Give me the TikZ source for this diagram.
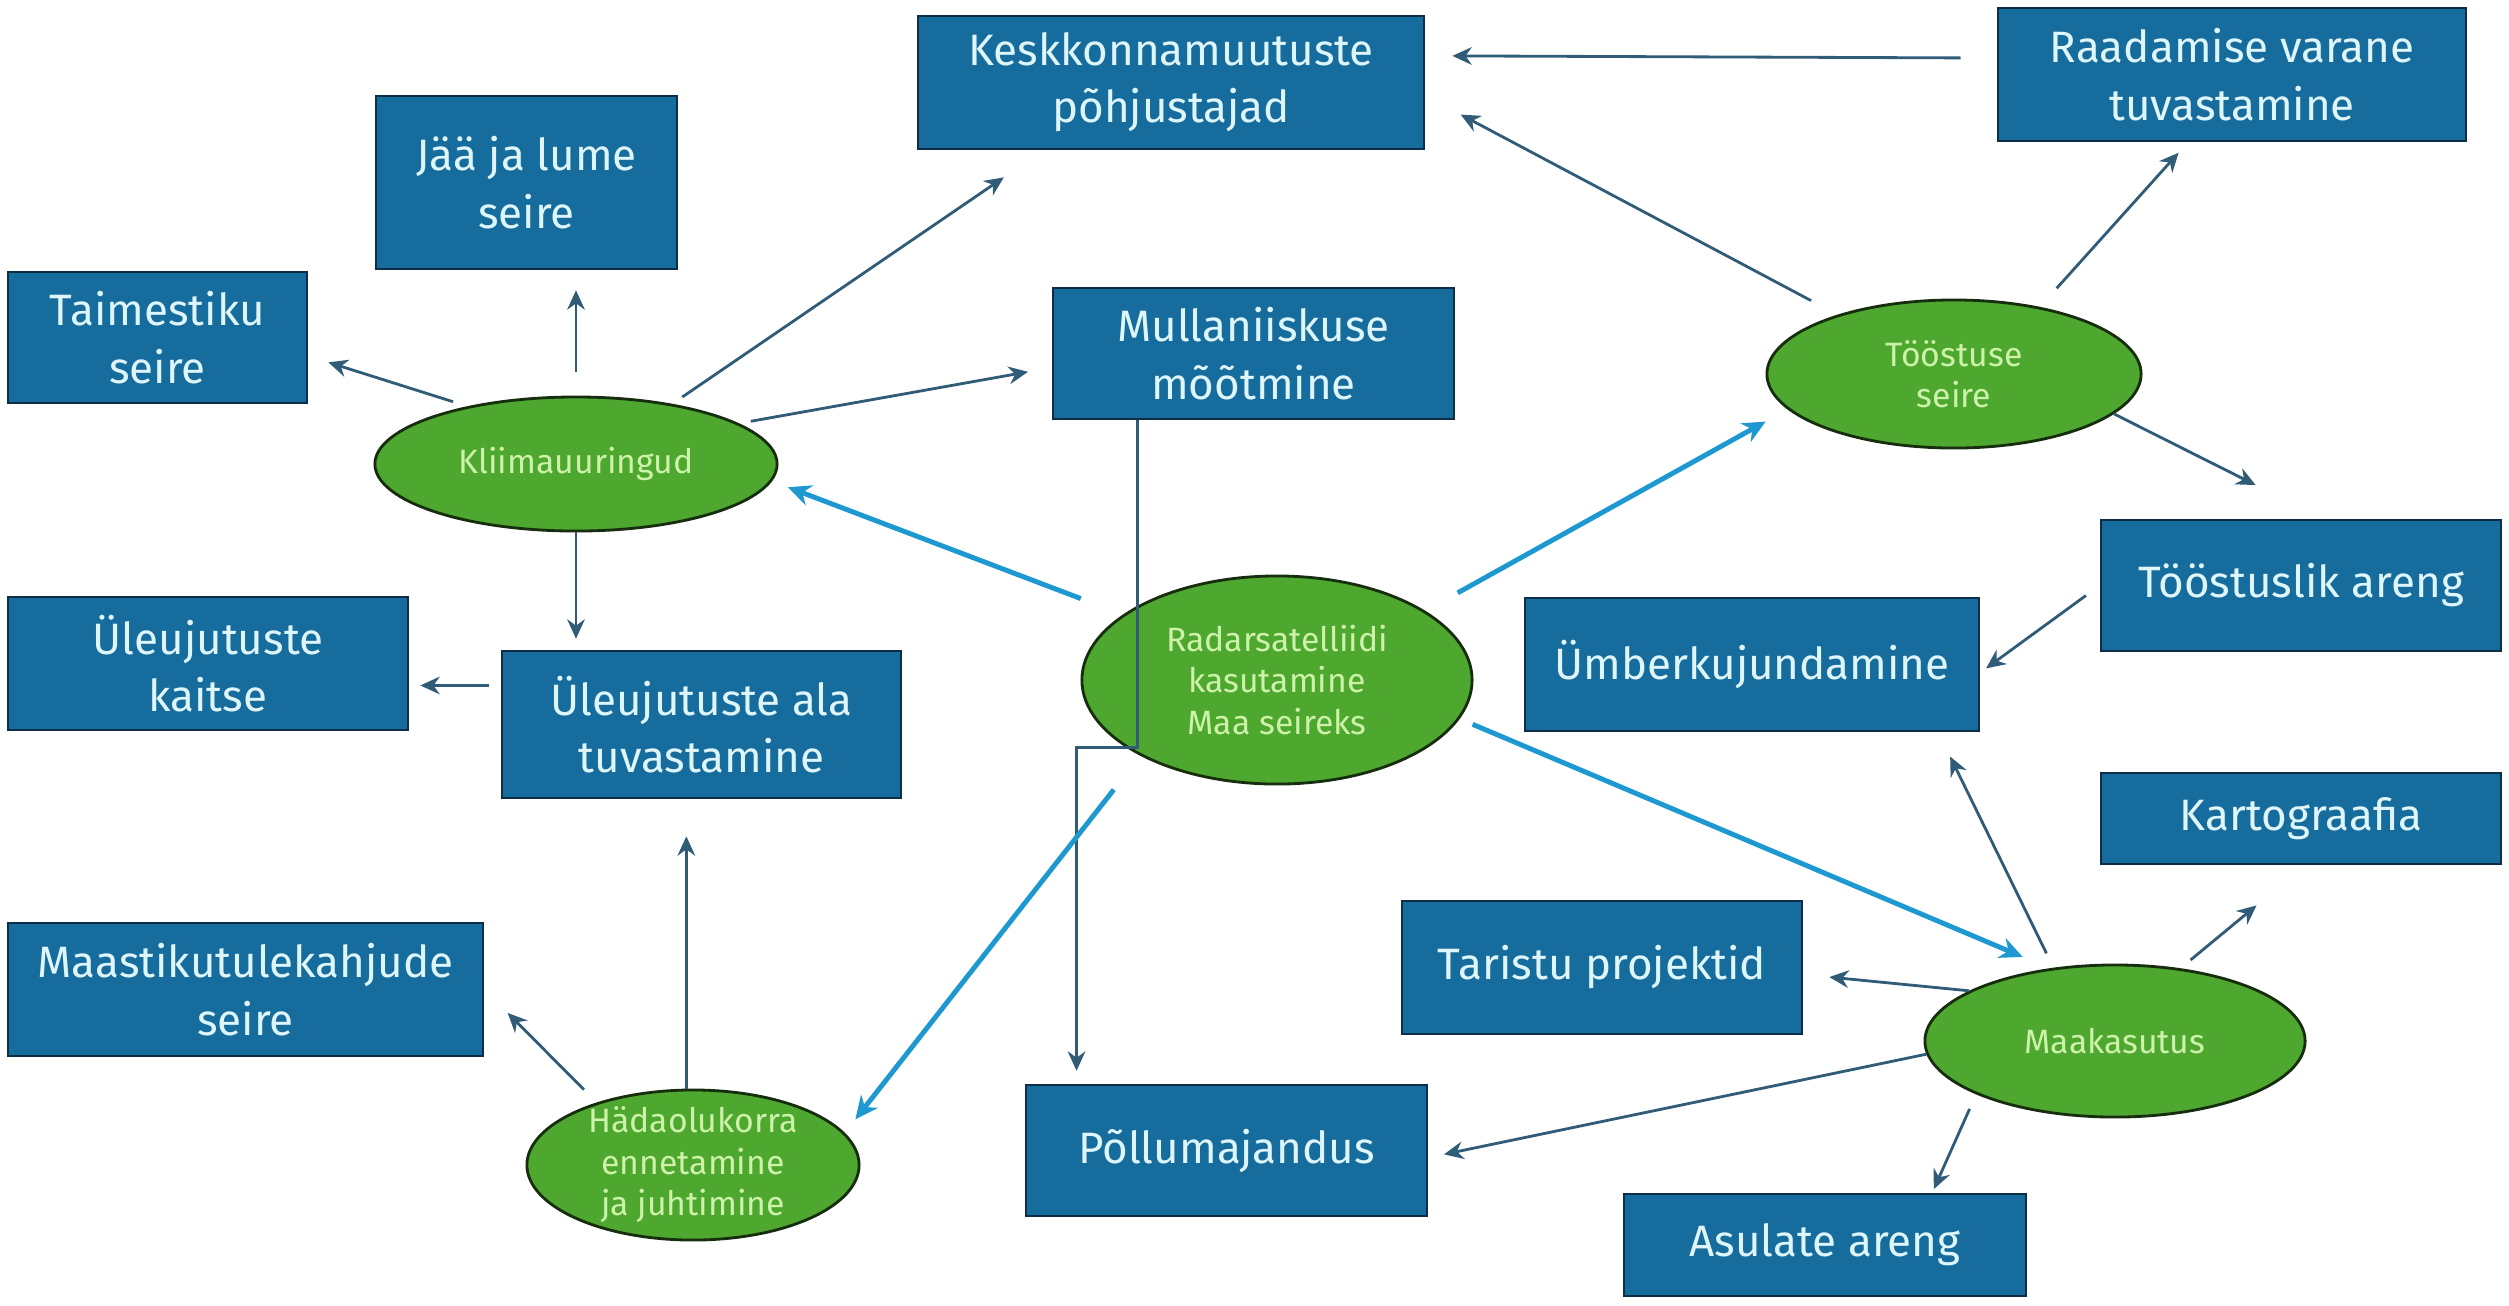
\documentclass[tikz,border=0pt]{standalone}
\usepackage{fontspec}
\setmainfont{Fira Sans}
\usetikzlibrary{positioning, shapes.geometric, arrows.meta, calc}

\definecolor{boxblue}{RGB}{22,108,156}
\definecolor{boxedge}{RGB}{14,45,70}
\definecolor{boxtext}{RGB}{222,246,250}
\definecolor{ovalgreen}{RGB}{78,167,46}
\definecolor{ovaledge}{RGB}{22,45,14}
\definecolor{ovaltext}{RGB}{205,242,170}
\definecolor{arrowdark}{RGB}{48,92,120}
\definecolor{arrowlight}{RGB}{30,152,208}

\begin{document}
\begin{tikzpicture}[x=0.01cm, y=-0.01cm,
  box/.style={draw=boxedge, line width=0.7pt, fill=boxblue, text=boxtext, align=center, inner sep=0pt, font=\fontsize{12.5}{16.3}\selectfont},
  oval/.style={ellipse, draw=ovaledge, line width=0.8pt, fill=ovalgreen, text=ovaltext, align=center, inner sep=-5pt, font=\fontsize{9.6}{11.8}\selectfont},
  arr/.style={-{Stealth[length=5.5pt, width=5pt]}, draw=arrowdark, line width=0.8pt},
  mainarr/.style={-{Stealth[length=6.5pt, width=6pt]}, draw=arrowlight, line width=1.4pt}]
  \useasboundingbox (0,0) rectangle (2509,1305);

  % boxes
  \node[box, minimum width=5.06cm, minimum height=1.33cm] (keskkond) at (1171,82.5) {Keskkonnamuutuste\\põhjustajad};
  \node[box, minimum width=4.68cm, minimum height=1.33cm] (raadamine) at (2232,74.5) {Raadamise varane\\tuvastamine};
  \node[box, minimum width=3.01cm, minimum height=1.73cm] (jaa) at (526.5,182.5) {Jää ja lume\\seire};
  \node[box, minimum width=2.99cm, minimum height=1.31cm] (taimestik) at (157.5,337.5) {Taimestiku\\seire};
  \node[box, minimum width=4.01cm, minimum height=1.31cm] (mullaniiskus) at (1253.5,353.5) {Mullaniiskuse\\mõõtmine};
  \node[box, minimum width=4.00cm, minimum height=1.31cm] (tooarend) at (2301,585.5) {Tööstuslik areng};
  \node[box, minimum width=4.54cm, minimum height=1.33cm] (umber) at (1752,664.5) {Ümberkujundamine};
  \node[box, minimum width=4.00cm, minimum height=1.33cm] (uleujkaitse) at (208,663.5) {Üleujutuste\\kaitse};
  \node[box, minimum width=3.99cm, minimum height=1.47cm] (uleujala) at (701.5,724.5) {Üleujutuste ala\\tuvastamine};
  \node[box, minimum width=4.00cm, minimum height=0.91cm] (kartograafia) at (2301,818.5) {Kartograafia};
  \node[box, minimum width=4.00cm, minimum height=1.33cm] (taristu) at (1602,967.5) {Taristu projektid};
  \node[box, minimum width=4.75cm, minimum height=1.33cm] (maastik) at (245.5,989.5) {Maastikutulekahjude\\seire};
  \node[box, minimum width=4.01cm, minimum height=1.31cm] (pollumajandus) at (1226.5,1150.5) {Põllumajandus};
  \node[box, minimum width=4.02cm, minimum height=1.02cm] (asulad) at (1825,1245) {Asulate areng};

  % ellipses
  \node[oval, minimum width=4.02cm, minimum height=1.34cm] (kliima) at (576,464) {Kliimauuringud};
  \node[oval, minimum width=3.90cm, minimum height=2.08cm] (radar) at (1277,680) {Radarsatelliidi\\kasutamine\\Maa seireks};
  \node[oval, minimum width=3.74cm, minimum height=1.48cm] (toostus) at (1954,374) {Tööstuse\\seire};
  \node[oval, minimum width=3.32cm, minimum height=1.50cm] (hada) at (693,1165) {Hädaolukorra\\ennetamine\\ja juhtimine};
  \node[oval, minimum width=3.80cm, minimum height=1.52cm] (maakasutus) at (2115,1041) {Maakasutus};

  % kliimauuringud
  \draw[arr, shorten <=1.5mm, shorten >=2.1mm] (kliima.152) -- (taimestik.-7.5);
  \draw[arr, shorten <=2.4mm, shorten >=2mm] (kliima.north) -- (kliima.north |- jaa.south);
  \draw[arr, shorten <=1.2mm, shorten >=4.8mm] (kliima.32.7) -- (keskkond.208.4);
  \draw[arr, shorten <=1.2mm, shorten >=2.4mm] (kliima.14.8) -- (mullaniiskus.184.4);
  \draw[arr, shorten >=1.1mm] (kliima.south) -- (kliima.south |- uleujala.north);
  \draw[arr, shorten <=1.2mm, shorten >=1.1mm] (uleujala.169) -- (uleujala.169 -| uleujkaitse.east);

  % hadaolukord
  \draw[arr, shorten >=3.7mm] (hada.95) -- (hada.95 |- uleujala.south);
  \draw[arr, shorten <=1.8mm, shorten >=3.3mm] (hada.147.7) -- (maastik.east);

  % toostus
  \draw[arr, shorten <=3.6mm, shorten >=2.7mm] (raadamine.176.3) -- (keskkond.6.5);
  \draw[arr, shorten <=3mm, shorten >=4mm] (toostus.153.7) -- (keskkond.-3.8);
  \draw[arr, shorten <=2.5mm, shorten >=1.4mm] (toostus.38) -- (raadamine.-123.5);
  \draw[arr, shorten >=7.5mm] (toostus.-14.3) -- (tooarend.72.2);
  \draw[arr, shorten <=1.7mm, shorten >=0.7mm] (tooarend.west) -- (umber.-2.4);

  % maakasutus
  \draw[arr, shorten <=1.6mm, shorten >=2.7mm] (maakasutus.130.6) -- (umber.-20.3);
  \draw[arr, shorten <=1.3mm, shorten >=6.3mm] (maakasutus.48.4) -- (kartograafia.-85);
  \draw[arr, shorten >=2.6mm] (maakasutus.161.8) -- (taristu.-2.6);
  \draw[arr, shorten >=1.6mm] (maakasutus.184.5) -- (pollumajandus.-2.2);
  \draw[arr, shorten <=1.6mm, shorten >=0.4mm] (maakasutus.201.5) -- (asulad.26.6);

  % mullaniiskus
  \draw[arr, shorten >=1.3mm] (mullaniiskus.210.2) -- ++(0,327) -| (pollumajandus.156.6);

  % radar
  \draw[mainarr, shorten <=4.5mm, shorten >=1.7mm] (radar.157.1) -- (kliima.-5.8);
  \draw[mainarr, shorten <=3.7mm, shorten >=2.5mm] (radar.25.4) -- (toostus.192);
  \draw[mainarr, shorten <=4.3mm, shorten >=1.7mm] (radar.209) -- (hada.12.9);
  \draw[mainarr, shorten <=1.4mm, shorten >=2.9mm] (radar.-12.2) -- (maakasutus.132.9);
\end{tikzpicture}
\end{document}
